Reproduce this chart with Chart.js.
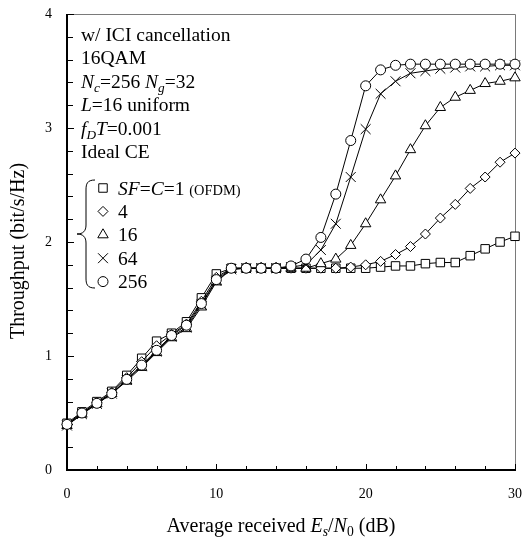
<!DOCTYPE html>
<html><head><meta charset="utf-8">
<script src="https://cdn.jsdelivr.net/npm/chart.js@4.4.1/dist/chart.umd.min.js"></script>
<style>html,body{margin:0;padding:0;background:#fff}canvas{display:block}</style>
</head><body>
<canvas id="c" width="525" height="539"></canvas>
<script>
// ---- data ----
const snrDb = [0,1,2,3,4,5,6,7,8,9,10,11,12,13,14,15,16,17,18,19,20,21,22,23,24,25,26,27,28,29,30];
const sf1   = [0.41,0.51,0.60,0.69,0.83,0.98,1.13,1.20,1.30,1.51,1.72,1.77,1.77,1.77,1.77,1.77,1.77,1.77,1.77,1.77,1.77,1.78,1.79,1.79,1.81,1.82,1.82,1.88,1.94,2.00,2.05];
const sf4   = [0.40,0.50,0.59,0.68,0.81,0.95,1.09,1.19,1.28,1.48,1.69,1.77,1.77,1.77,1.77,1.77,1.77,1.77,1.77,1.78,1.80,1.83,1.89,1.96,2.07,2.21,2.33,2.47,2.57,2.70,2.78];
const sf16  = [0.39,0.49,0.58,0.67,0.78,0.90,1.03,1.16,1.24,1.43,1.65,1.76,1.77,1.77,1.77,1.77,1.77,1.81,1.85,1.97,2.16,2.37,2.58,2.81,3.02,3.18,3.27,3.33,3.39,3.41,3.44];
const sf64  = [0.39,0.49,0.58,0.67,0.79,0.91,1.04,1.17,1.25,1.45,1.66,1.76,1.77,1.77,1.77,1.78,1.80,1.93,2.16,2.57,2.99,3.30,3.41,3.48,3.50,3.52,3.53,3.54,3.54,3.55,3.55];
const sf256 = [0.40,0.50,0.585,0.67,0.795,0.92,1.05,1.18,1.27,1.46,1.67,1.77,1.77,1.77,1.77,1.79,1.85,2.04,2.42,2.89,3.37,3.51,3.55,3.56,3.56,3.56,3.56,3.56,3.56,3.56,3.56];
const xTickLabels = [0,10,20,30];
const yTickLabels = [0,1,2,3,4];
const seriesLabels = ['SF=C=1 (OFDM)','4','16','64','256'];

const FONT = '"Liberation Serif", "Times New Roman", serif';
const pts = arr => arr.map((v,i)=>({x:snrDb[i], y:v}));

const styles = [
  {style:'rect', r:6},
  {style:'rectRot', r:5},
  {style:'triangle', r:6},
  {style:'crossRot', r:7},
  {style:'circle', r:5}
];
const allSeries = [sf1, sf4, sf16, sf64, sf256];
const datasets = allSeries.map((s,i)=>({
  label: seriesLabels[i],
  data: pts(s),
  borderColor:'#000', borderWidth:1,
  backgroundColor:'#fff',
  pointStyle: styles[i].style, pointRadius: styles[i].r,
  pointBorderColor:'#000', pointBackgroundColor:'#fff', pointBorderWidth:1,
  tension:0, fill:false, clip:false,
  order: 4 - i
}));

function drawMarker(ctx, style, r, x, y){
  ctx.save();
  ctx.strokeStyle='#000'; ctx.fillStyle='#fff'; ctx.lineWidth=1;
  if (Chart.helpers && Chart.helpers.drawPoint) {
    Chart.helpers.drawPoint(ctx, {pointStyle:style, radius:r, borderWidth:1, rotation:0}, x, y);
  }
  ctx.restore();
}

function fontFor(m,size){
  const it = (m==='i'||m==='subi') ? 'italic ' : '';
  let s = size;
  if (m==='sub'||m==='subi') s = size*0.68;
  if (m==='sm') s = size*0.74;
  return it + s + 'px ' + FONT;
}
function richWidth(ctx, segs, size){
  let w=0;
  for (const [t,m] of segs){ ctx.font = fontFor(m,size); w += ctx.measureText(t).width; }
  return w;
}
function drawRich(ctx, segs, x, y, size, align){
  const w = richWidth(ctx, segs, size);
  let cx = align==='center' ? x - w/2 : x;
  ctx.textBaseline='alphabetic'; ctx.textAlign='left'; ctx.fillStyle='#000';
  for (const [t,m] of segs){
    ctx.font = fontFor(m,size);
    const dy = (m==='sub'||m==='subi') ? size*0.22 : 0;
    ctx.fillText(t, cx, y+dy);
    cx += ctx.measureText(t).width;
  }
}

const decor = {
  id:'decor',
  beforeDatasetsDraw(chart){
    const {ctx, chartArea:a, scales:{x,y}} = chart;
    ctx.save();
    ctx.strokeStyle='#7a7a7a'; ctx.lineWidth=1;
    ctx.beginPath();
    ctx.moveTo(a.left, a.top+0.5); ctx.lineTo(a.right+0.5, a.top+0.5); ctx.lineTo(a.right+0.5, a.bottom);
    ctx.stroke();
    ctx.strokeStyle='#000'; ctx.lineWidth=1;
    ctx.beginPath();
    for (let v=0; v<=30; v+=2){
      const px = Math.round(x.getPixelForValue(v))+0.5;
      const len = (v%10===0)?6:4;
      ctx.moveTo(px, a.bottom); ctx.lineTo(px, a.bottom-len);
    }
    for (let k=0; k<=20; k++){
      const v = k*0.2;
      const py = Math.round(y.getPixelForValue(v))+0.5;
      const len = (k%5===0)?7:6;
      ctx.moveTo(a.left, py); ctx.lineTo(a.left+len, py);
    }
    ctx.stroke();
    ctx.lineWidth=2;
    ctx.beginPath();
    ctx.moveTo(a.left, a.top); ctx.lineTo(a.left, a.bottom); ctx.lineTo(a.right+1, a.bottom);
    ctx.stroke();
    ctx.restore();
  },
  afterDraw(chart){
    const {ctx} = chart;
    ctx.save();
    const S = 19.5;
    const lx = 81, l0 = 41, dl = 23.4;
    const lines = [
      [['w/ ICI cancellation','']],
      [['16QAM','']],
      [['N','i'],['c','subi'],['=256 ',''],['N','i'],['g','subi'],['=32','']],
      [['L','i'],['=16 uniform','']],
      [['f','i'],['D','subi'],['T','i'],['=0.001','']],
      [['Ideal CE','']]
    ];
    lines.forEach((segs,i)=>drawRich(ctx, segs, lx, l0+i*dl, S, 'left'));
    const ly0 = 188, ldy = 23.4, sx = 103, tx = 118;
    const legTexts = [
      [['SF','i'],['=',''],['C','i'],['=1 ',''],['(OFDM)','sm']],
      [['4','']],[['16','']],[['64','']],[['256','']]
    ];
    legTexts.forEach((segs,i)=>{
      const yy = ly0 + i*ldy;
      drawMarker(ctx, styles[i].style, styles[i].r, sx, yy);
      drawRich(ctx, segs, tx, yy+6.5, S, 'left');
    });
    ctx.strokeStyle='#000'; ctx.lineWidth=1;
    const bx = 95, top = 180, bot = 288, mid = 234, tip = 77, cxm = 86;
    ctx.beginPath();
    ctx.moveTo(bx, top);
    ctx.bezierCurveTo(cxm+1, top, cxm, top+4, cxm, top+10);
    ctx.lineTo(cxm, mid-9);
    ctx.bezierCurveTo(cxm, mid-3, cxm-3, mid, tip, mid);
    ctx.bezierCurveTo(cxm-3, mid, cxm, mid+3, cxm, mid+9);
    ctx.lineTo(cxm, bot-10);
    ctx.bezierCurveTo(cxm, bot-4, cxm+1, bot, bx, bot);
    ctx.stroke();
    drawRich(ctx, [['Average received ',''],['E','i'],['s','subi'],['/',''],['N','i'],['0','sub'],[' (dB)','']], 281, 532, 20, 'center');
    ctx.translate(24, 251);
    ctx.rotate(-Math.PI/2);
    drawRich(ctx, [['Throughput (bit/s/Hz)','']], 0, 0, 20, 'center');
    ctx.restore();
  }
};

const chart = new Chart(document.getElementById('c'), {
  type:'line',
  data:{datasets},
  options:{
    responsive:false, animation:false,
    layout:{padding:{left:0,right:10,top:14,bottom:0}},
    plugins:{legend:{display:false}, tooltip:{enabled:false}},
    scales:{
      x:{type:'linear', min:0, max:30,
        afterFit(s){ s.height = 69; s.paddingLeft = 0; s.paddingRight = 0; },
        afterBuildTicks(s){ s.ticks = xTickLabels.map(v=>({value:v})); },
        grid:{display:false, drawTicks:false}, border:{display:false},
        ticks:{color:'#000', font:{family:FONT, size:14}, padding:16, maxRotation:0, autoSkip:false}
      },
      y:{type:'linear', min:0, max:4,
        afterFit(s){ s.width = 67; s.paddingTop = 0; s.paddingBottom = 0; },
        afterBuildTicks(s){ s.ticks = yTickLabels.map(v=>({value:v})); },
        grid:{display:false, drawTicks:false}, border:{display:false},
        ticks:{color:'#000', font:{family:FONT, size:14}, padding:15}
      }
    }
  },
  plugins:[decor]
});
// fit the plot area to the reference frame (left 67, right 515, top 14, bottom 470)
const target = {left:67, right:515, top:14, bottom:470};
let pad = {left:0, right:10, top:14, bottom:0};
for (let it=0; it<5; it++){
  const a = chart.chartArea;
  const dT = target.top - a.top, dR = a.right - target.right, dB = a.bottom - target.bottom, dL = target.left - a.left;
  if (Math.abs(dT)<0.5 && Math.abs(dR)<0.5 && Math.abs(dB)<0.5 && Math.abs(dL)<0.5) break;
  pad = {
    top: Math.max(0, pad.top + dT),
    right: Math.max(0, pad.right + dR),
    bottom: Math.max(0, pad.bottom + dB),
    left: Math.max(0, pad.left + dL)
  };
  chart.config.options.layout.padding = pad;
  chart.update('none');
}
</script>
</body></html>
